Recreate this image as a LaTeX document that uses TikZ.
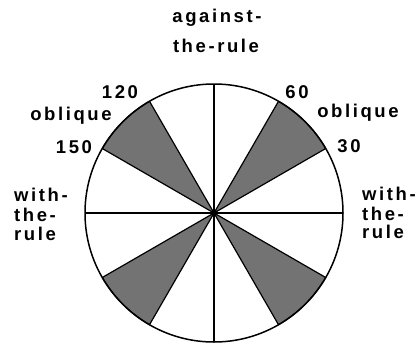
\documentclass[tikz,border=0pt]{standalone}
\usepackage{fontspec}
\setmainfont{Liberation Sans}[LetterSpace=14]
\begin{document}
\begin{tikzpicture}[x=1pt,y=-1pt,
  lbl/.style={font=\fontsize{18.5}{19}\selectfont\bfseries, inner sep=0pt},
  sector/.style={fill=black!55, draw=black, line width=1.2pt, line join=round},
  axis/.style={line width=1.2pt}]
\useasboundingbox (0,0) rectangle (420,343);
\coordinate (O) at (214,213);
% shaded sectors
\foreach \a/\b in {-30/-60, -120/-150, 30/60, 120/150}{
  \filldraw[sector] (O) -- ++(\a:129) arc[start angle=\a, end angle=\b, radius=129] -- cycle;
}
% circle and axes
\draw[line width=1.5pt] (O) circle[radius=129];
\path (O) ++(180:129) coordinate (W) (O) ++(0:129) coordinate (E)
      (O) ++(90:129) coordinate (S) (O) ++(-90:129) coordinate (N);
\draw[axis] (W) -- (E);
\draw[axis] (N) -- (S);
% labels
\node[lbl, anchor=base] (ag1) at (217,22) {against-};
\node[lbl, anchor=base] (ag2) at (216,52) {the-rule};
\node[lbl, anchor=base] (l120) at (120,98) {120};
\node[lbl, anchor=base] (l60) at (297,98) {60};
\node[lbl, anchor=base] (obr) at (358,117) {oblique};
\node[lbl, anchor=base] (obl) at (71,120) {oblique};
\node[lbl, anchor=base] (l150) at (74,153) {150};
\node[lbl, anchor=base] (l30) at (349,152) {30};
\node[lbl, anchor=base west] (wr1) at (362,200) {with-};
\node[lbl, anchor=base west] (wr2) at (362,220) {the-};
\node[lbl, anchor=base west] (wr3) at (362,238) {rule};
\node[lbl, anchor=base west] (wl1) at (14,201.5) {with-};
\node[lbl, anchor=base west] (wl2) at (14,221.5) {the-};
\node[lbl, anchor=base west] (wl3) at (14,240) {rule};
\end{tikzpicture}
\end{document}
